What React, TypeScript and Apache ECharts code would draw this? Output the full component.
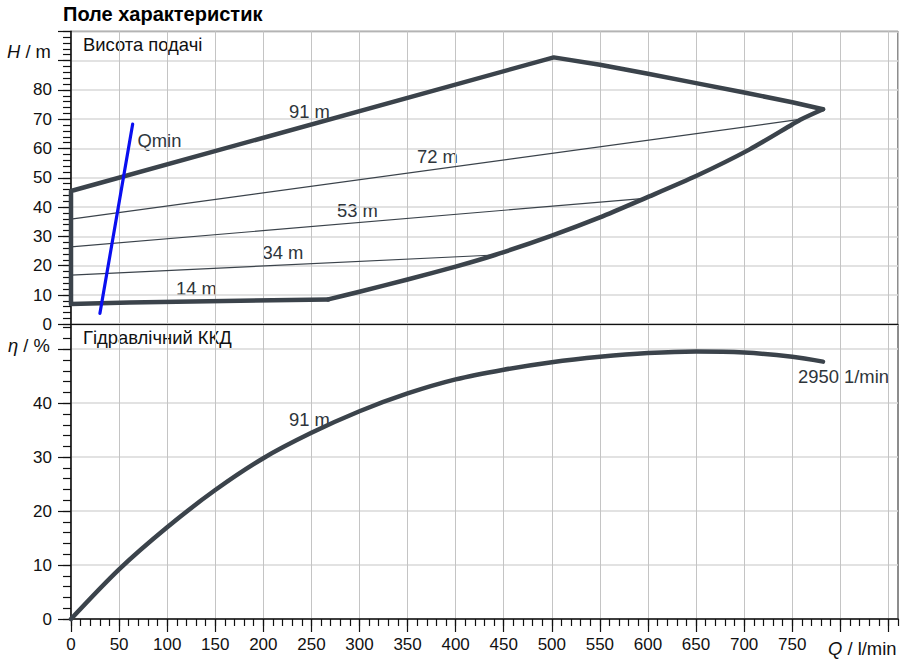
import React, { useEffect, useRef } from "react";
import * as echarts from "echarts";

// ---- data ----
const flowMax = 860;
const headMax = 100;
const effMax = 54.6;

// upper part of the characteristic field envelope (Q in l/min, H in m)
const upperQ = [267.5, 61, 0, 0, 502, 550, 600, 650, 700, 750, 782];
const upperH = [8.5, 7.4, 6.9, 45.5, 91.1, 88.6, 85.5, 82.3, 79.1, 75.8, 73.4];
// lower (right) curve of the envelope
const lowerQ = [782, 759.5, 750, 705.8, 650, 596.7, 550, 500, 440.7, 400, 350, 300, 267.5];
const lowerH = [73.4, 70, 68.2, 59.7, 50.6, 43, 36.5, 30.3, 23.65, 19.7, 15.3, 11.1, 8.5];

// thin head lines
const line72Q = [0, 759.5];
const line72H = [35.9, 70];
const line53Q = [0, 596.7];
const line53H = [26.4, 43];
const line34Q = [0, 440.7];
const line34H = [16.8, 23.65];

// Qmin line
const qminQ = [30.1, 64.1];
const qminH = [3.75, 68.3];

// hydraulic efficiency at 91 m / 2950 1/min
const effQ = [0, 50, 100, 150, 200, 250, 300, 350, 400, 450, 500, 550, 600, 650, 700, 750, 782];
const effV = [0, 9.2, 17.0, 23.9, 29.8, 34.5, 38.5, 41.8, 44.4, 46.2, 47.6, 48.6, 49.3, 49.6, 49.4, 48.6, 47.7];

// tick values
const flowMajor = [0, 50, 100, 150, 200, 250, 300, 350, 400, 450, 500, 550, 600, 650, 700, 750, 800, 850];
const flowLabels = [0, 50, 100, 150, 200, 250, 300, 350, 400, 450, 500, 550, 600, 650, 700, 750];
const headMajor = [0, 10, 20, 30, 40, 50, 60, 70, 80, 90, 100];
const headLabels = [0, 10, 20, 30, 40, 50, 60, 70, 80];
const effMajor = [0, 10, 20, 30, 40, 50];
const effLabels = [0, 10, 20, 30, 40];

const pairs = (xs: number[], ys: number[]) => xs.map((x, i) => [x, ys[i]]);
const range = (a: number, b: number, s: number) => {
  const r: number[] = [];
  for (let v = a; v <= b + 1e-9; v += s) r.push(Math.round(v * 100) / 100);
  return r;
};

const FONT = "'Liberation Sans', Arial, sans-serif";
const DARK = "#3b434b";
const TXT = "#2e353b";
const FS = 18.4;

export default function App() {
  const ref = useRef<HTMLDivElement>(null);
  useEffect(() => {
    if (!ref.current) return;
    const chart = echarts.init(ref.current, undefined, { renderer: "svg" });
    const vGrid = { show: true, lineStyle: { color: "#c4c4c4", width: 1 } };
    const hGrid = { show: true, lineStyle: { color: "#d9d9d9", width: 1.6 } };
    const grids = [
      { left: 71, top: 31.3, width: 827, height: 293, show: true, borderColor: "#1a1a1a", borderWidth: 1, backgroundColor: "transparent" },
      { left: 71, top: 324.4, width: 827, height: 294.6, show: true, borderColor: "#1a1a1a", borderWidth: 1, backgroundColor: "transparent" },
    ];
    const lblStyle = { color: "#111", fontSize: 17, fontFamily: FONT };
    const italicLabel = (x: number, y: number, a: string, b: string) => ({
      type: "text", x, y,
      style: {
        text: `{i|${a}}{n|${b}}`, verticalAlign: "middle", fill: "#111", font: `${FS}px ${FONT}`,
        rich: {
          i: { fontStyle: "italic", fontSize: FS, fontFamily: FONT, fill: "#111" },
          n: { fontSize: FS, fontFamily: FONT, fill: "#111" },
        },
      },
    });
    const curveLabel = (x: number, y: number, t: string) => ({
      type: "text", x, y, style: { text: t, font: `${FS}px ${FONT}`, fill: TXT, verticalAlign: "middle" },
    });
    const thin = (q: number[], h: number[]) => ({
      type: "line", xAxisIndex: 0, yAxisIndex: 0, data: pairs(q, h), symbol: "none",
      lineStyle: { color: DARK, width: 1.2 }, silent: true,
    });
    const option: any = {
      animation: false,
      grid: grids,
      xAxis: [
        {
          type: "value", gridIndex: 0, min: 0, max: flowMax, interval: 50, position: "bottom",
          axisLine: { show: true, lineStyle: { color: "#111", width: 1.2 } },
          axisTick: { show: false }, axisLabel: { show: false }, splitLine: vGrid,
        },
        {
          type: "value", gridIndex: 1, min: 0, max: flowMax, interval: 50, position: "bottom",
          axisLine: { show: true, lineStyle: { color: "#111", width: 1.5 } },
          axisTick: { show: true, length: 13, customValues: flowMajor, lineStyle: { color: "#111", width: 1.2 } },
          axisLabel: { ...lblStyle, margin: 17, customValues: flowLabels, formatter: (v: number) => (v <= 750 ? String(v) : "") },
          splitLine: vGrid,
        },
        {
          type: "value", gridIndex: 1, min: 0, max: flowMax, interval: 10, position: "bottom",
          axisLine: { show: false },
          axisTick: { show: true, length: 7, lineStyle: { color: "#111", width: 1.2 } },
          axisLabel: { show: false }, splitLine: { show: false },
        },
      ],
      yAxis: [
        {
          type: "value", gridIndex: 0, min: 0, max: headMax, interval: 10, position: "left",
          axisLine: { show: true, lineStyle: { color: "#111", width: 1.5 } },
          axisTick: { show: true, length: 13, customValues: headMajor, lineStyle: { color: "#111", width: 1.2 } },
          axisLabel: { ...lblStyle, margin: 19, customValues: headLabels, formatter: (v: number) => (v <= 80 ? String(v) : "") },
          splitLine: hGrid,
        },
        {
          type: "value", gridIndex: 0, min: 0, max: headMax, interval: 2, position: "left",
          axisLine: { show: false },
          axisTick: { show: true, length: 8, lineStyle: { color: "#111", width: 1.2 } },
          axisLabel: { show: false }, splitLine: { show: false },
        },
        {
          type: "value", gridIndex: 1, min: 0, max: effMax, interval: 10, position: "left",
          axisLine: { show: true, lineStyle: { color: "#111", width: 1.5 } },
          axisTick: { show: true, length: 13, customValues: effMajor, lineStyle: { color: "#111", width: 1.2 } },
          axisLabel: { ...lblStyle, margin: 19, customValues: effLabels, formatter: (v: number) => (v <= 40 ? String(v) : "") },
          splitLine: hGrid,
        },
        {
          type: "value", gridIndex: 1, min: 0, max: effMax, interval: 2, position: "left",
          axisLine: { show: false },
          axisTick: { show: true, length: 8, customValues: range(0, 54, 2), lineStyle: { color: "#111", width: 1.2 } },
          axisLabel: { show: false }, splitLine: { show: false },
        },
      ],
      series: [
        thin(line72Q, line72H),
        thin(line53Q, line53H),
        thin(line34Q, line34H),
        {
          type: "line", xAxisIndex: 0, yAxisIndex: 0, data: pairs(upperQ, upperH), symbol: "none",
          lineStyle: { color: DARK, width: 4.5, join: "round", cap: "round" }, clip: false, silent: true,
        },
        {
          type: "line", xAxisIndex: 0, yAxisIndex: 0, data: pairs(lowerQ, lowerH), symbol: "none", smooth: 0.25,
          lineStyle: { color: DARK, width: 4.5, join: "round", cap: "round" }, clip: false, silent: true,
        },
        {
          type: "line", xAxisIndex: 0, yAxisIndex: 0, data: pairs(qminQ, qminH), symbol: "none",
          lineStyle: { color: "#0a0ff0", width: 3.2, cap: "round" }, silent: true,
        },
        {
          type: "line", xAxisIndex: 1, yAxisIndex: 2, data: pairs(effQ, effV), symbol: "none",
          smooth: 0.3,
          lineStyle: { color: DARK, width: 4.5, cap: "round" }, clip: false, silent: true,
        },
      ],
      graphic: [
        { type: "text", x: 63, y: 13.5, style: { text: "Поле характеристик", font: `bold 20px ${FONT}`, fill: "#000", verticalAlign: "middle" } },
        { type: "text", x: 83, y: 44, style: { text: "Висота подачі", font: `${FS}px ${FONT}`, fill: "#111", verticalAlign: "middle" } },
        { type: "text", x: 83, y: 337.5, style: { text: "Гідравлічний ККД", font: `${FS}px ${FONT}`, fill: "#111", verticalAlign: "middle" } },
        italicLabel(7, 51, "H", " / m"),
        italicLabel(8, 345, "η", " / %"),
        italicLabel(828, 648.5, "Q", " / l/min"),
        curveLabel(289, 111.5, "91 m"),
        curveLabel(417, 156.5, "72 m"),
        curveLabel(337, 210.5, "53 m"),
        curveLabel(262.5, 252.5, "34 m"),
        curveLabel(176, 288.5, "14 m"),
        curveLabel(137.5, 140.5, "Qmin"),
        curveLabel(289, 419.5, "91 m"),
        curveLabel(798, 376.5, "2950 1/min"),
      ],
    };
    chart.setOption(option);
    return () => chart.dispose();
  }, []);
  return (
    <div
      ref={ref}
      style={{ position: "absolute", left: 0, top: 0, width: 903, height: 664, background: "#fff" }}
    />
  );
}
